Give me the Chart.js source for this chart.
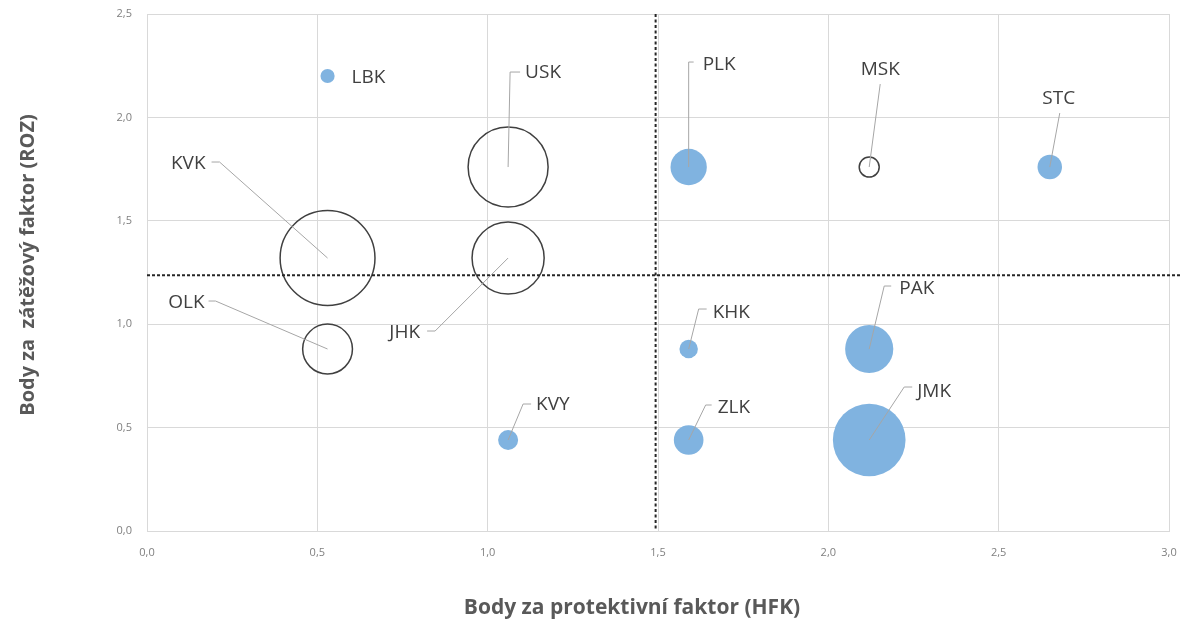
<!DOCTYPE html>
<html><head><meta charset="utf-8">
<script src="https://cdn.jsdelivr.net/npm/chart.js@4.4.0/dist/chart.umd.min.js"></script>
<style>html,body{margin:0;padding:0;background:#fff;} #wrap{width:1190px;height:626px;position:relative;}</style>
</head><body><div id="wrap"><canvas id="c" width="1190" height="626"></canvas></div>
<script>
// ---- data ----
const regions    = ['LBK','KVK','OLK','USK','JHK','KVY','PLK','KHK','ZLK','MSK','PAK','JMK','STC'];
const hfk        = [0.53, 0.53, 0.53, 1.06, 1.06, 1.06, 1.59, 1.59, 1.59, 2.12, 2.12, 2.12, 2.65];
const roz        = [2.20, 1.32, 0.88, 1.76, 1.32, 0.44, 1.76, 0.88, 0.44, 1.76, 0.88, 0.44, 1.76];
const bubbleSize = [0.5, 22.5, 6.2, 16, 13, 1.0, 3.3, 0.85, 2.2, 1.0, 5.8, 13.2, 1.5];
const highlighted= [true,false,false,false,false,true,true,true,true,false,true,true,true];
const xTicks = [0, 0.5, 1, 1.5, 2, 2.5, 3];
const yTicks = [0, 0.5, 1, 1.5, 2, 2.5];
const hfkThreshold = [1.493];
const rozThreshold = [1.237];
const xTitle = 'Body za protektivní faktor (HFK)';
const yTitle = 'Body za  zátěžový faktor (ROZ)';

// ---- label layout (pixel offsets from bubble centre) ----
const labelLayout = {
  LBK:{tx:24, ty:0, align:'left'},
  KVK:{tx:-122, ty:-96, align:'right', start:[-116,-96], elbow:[-108,-96]},
  OLK:{tx:-123, ty:-48, align:'right', start:[-119,-48], elbow:[-112,-48]},
  USK:{tx:17, ty:-96, align:'left', start:[12,-95], elbow:[2,-95]},
  JHK:{tx:-88, ty:73, align:'right', start:[-81,73], elbow:[-73,73]},
  KVY:{tx:28, ty:-37, align:'left', start:[23,-36], elbow:[15,-36]},
  PLK:{tx:14, ty:-104, align:'left', start:[5,-105], elbow:[0,-105]},
  KHK:{tx:24, ty:-38, align:'left', start:[18,-40], elbow:[10,-40]},
  ZLK:{tx:29, ty:-34, align:'left', start:[23,-35], elbow:[17,-35]},
  MSK:{tx:11, ty:-99, align:'center', start:[11,-83]},
  PAK:{tx:30, ty:-62, align:'left', start:[22,-63], elbow:[15,-63]},
  JMK:{tx:48, ty:-50, align:'left', start:[43,-53], elbow:[35,-53]},
  STC:{tx:9, ty:-70, align:'center', start:[10,-54]}
};
const TEXT_SHIFT = 2;

const BLUE = '#80B3E0';
const fmt = v => v.toFixed(1).replace('.', ',');

const labelsPlugin = {
  id:'labels',
  afterDatasetsDraw(chart){
    const {ctx, scales:{x, y}} = chart;
    ctx.save();
    regions.forEach((name, i) => {
      const px = x.getPixelForValue(hfk[i]), py = y.getPixelForValue(roz[i]);
      const L = labelLayout[name];
      if (L.start){
        ctx.beginPath();
        ctx.strokeStyle = '#A6A6A6'; ctx.lineWidth = 1;
        ctx.moveTo(px + L.start[0], py + L.start[1]);
        if (L.elbow) ctx.lineTo(px + L.elbow[0], py + L.elbow[1]);
        ctx.lineTo(px, py);
        ctx.stroke();
      }
      ctx.font = '19px "Open Sans"';
      ctx.fillStyle = '#404040';
      ctx.textAlign = L.align; ctx.textBaseline = 'middle';
      ctx.fillText(name, px + L.tx, py + L.ty + TEXT_SHIFT);
    });
    ctx.restore();
  },
  afterDraw(chart){
    const {ctx} = chart;
    ctx.save();
    ctx.fillStyle = '#595959';
    ctx.textAlign = 'center'; ctx.textBaseline = 'middle';
    ctx.font = 'bold 21px "Open Sans"';
    ctx.fillText(xTitle, 632, 608);
    ctx.font = 'bold 20px "Open Sans"';
    ctx.translate(28, 265);
    ctx.rotate(-Math.PI/2);
    ctx.fillText(yTitle, 0, 0);
    ctx.restore();
  }
};

function build(){
  const bubbleData = regions.map((n, i) => ({x: hfk[i], y: roz[i], r: 10 * Math.sqrt(bubbleSize[i])}));
  new Chart(document.getElementById('c'), {
    type: 'bubble',
    data: {
      datasets: [
        {
          type: 'line',
          data: [{x: 0, y: rozThreshold[0]}, {x: 3.035, y: rozThreshold[0]}],
          borderColor: '#262626', borderWidth: 2, borderDash: [3, 2],
          pointRadius: 0, fill: false, clip: false, order: 1
        },
        {
          type: 'line',
          data: [{x: hfkThreshold[0], y: 2.5}, {x: hfkThreshold[0], y: 0}],
          borderColor: '#262626', borderWidth: 2, borderDash: [3, 2.5],
          pointRadius: 0, fill: false, clip: false, order: 1
        },
        {
          data: bubbleData,
          backgroundColor: ctx => highlighted[ctx.dataIndex] ? BLUE : 'rgba(0,0,0,0)',
          borderColor: ctx => highlighted[ctx.dataIndex] ? BLUE : '#404040',
          borderWidth: ctx => highlighted[ctx.dataIndex] ? 0 : 1.5,
          order: 2
        }
      ]
    },
    options: {
      responsive: false,
      devicePixelRatio: 1,
      animation: false,
      events: [],
      layout: {autoPadding: false, padding: {top: 14, right: 21, left: 0, bottom: 0}},
      plugins: {legend: {display: false}, tooltip: {enabled: false}},
      scales: {
        x: {
          type: 'linear', min: 0, max: 3,
          afterBuildTicks: s => { s.ticks = xTicks.map(v => ({value: v})); },
          afterFit: s => { s.height = 95; s.paddingLeft = 0; s.paddingRight = 0; },
          grid: {color: '#D9D9D9', lineWidth: 1, drawTicks: false},
          border: {color: '#D9D9D9'},
          ticks: {padding: 15, color: '#808080', font: {family: 'Open Sans', size: 11}, callback: v => fmt(v), maxRotation: 0}
        },
        y: {
          type: 'linear', min: 0, max: 2.5,
          afterBuildTicks: s => { s.ticks = yTicks.map(v => ({value: v})); },
          afterFit: s => { s.width = 147; s.paddingTop = 0; s.paddingBottom = 0; },
          grid: {color: '#D9D9D9', lineWidth: 1, drawTicks: false},
          border: {color: '#D9D9D9'},
          ticks: {padding: 15, color: '#808080', font: {family: 'Open Sans', size: 11}, callback: v => fmt(v)}
        }
      }
    },
    plugins: [labelsPlugin]
  });
}
Promise.all([
  document.fonts.load('19px "Open Sans"'),
  document.fonts.load('bold 21px "Open Sans"'),
  document.fonts.load('11px "Open Sans"')
]).then(build, build);
</script>
</body></html>
